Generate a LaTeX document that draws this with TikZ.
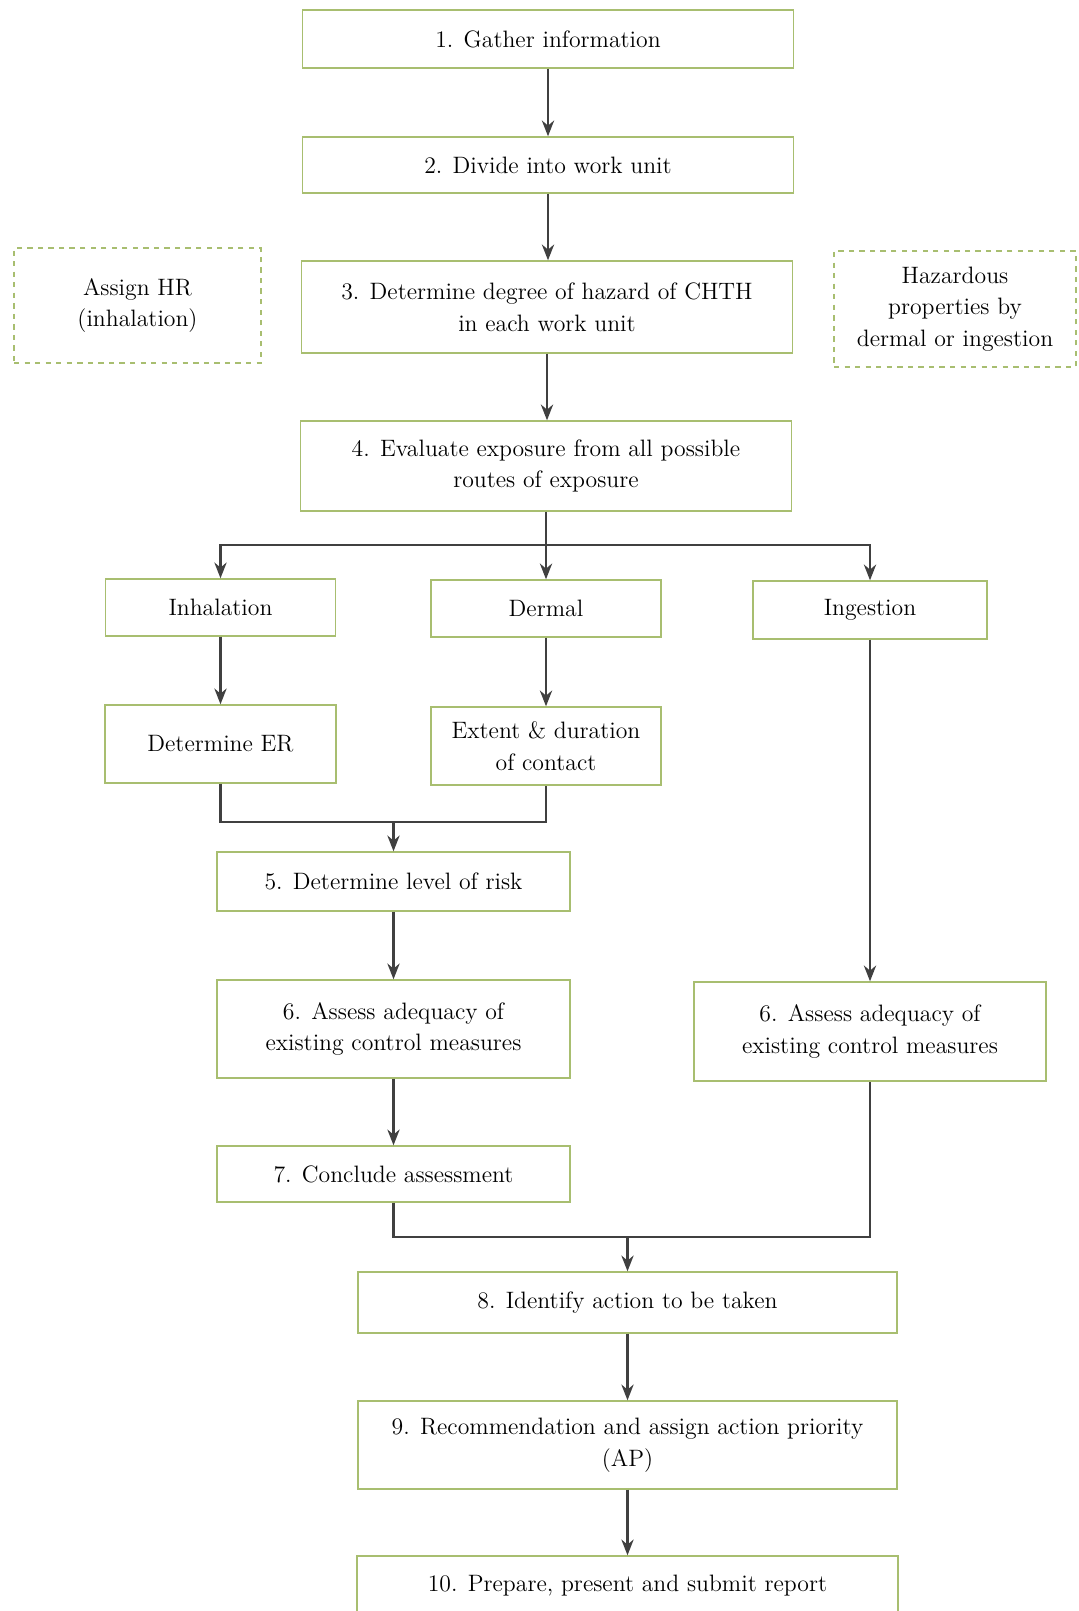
\documentclass[tikz,border=0pt]{standalone}
\usetikzlibrary{arrows.meta}

\definecolor{boxgreen}{RGB}{168,190,112}

\begin{document}
\begin{tikzpicture}[>={Stealth[length=9pt, width=7pt]},
		stepbox/.style={draw=boxgreen, line width=0.8pt, rectangle, align=center, inner sep=0pt, font=\fontsize{13.5}{18}\selectfont, text=black},
		notebox/.style={stepbox, dashed},
		arr/.style={->, line width=1.2pt, draw=black!75},
		lnk/.style={line width=1.2pt, draw=black!75}]
				\useasboundingbox (0,0) rectangle (21.56,-32.22);
				\node[stepbox, minimum width=9.82cm, minimum height=1.16cm] (S1)at(10.96, -0.78) {1. Gather information};
				\node[stepbox, minimum width=9.82cm, minimum height=1.12cm] (S2)at(10.96, -3.30) {2. Divide into work unit};
				\node[stepbox, minimum width=9.82cm, minimum height=1.84cm] (S3)at(10.94, -6.14) {3. Determine degree of hazard of CHTH\\in each work unit};
				\node[stepbox, minimum width=9.82cm, minimum height=1.80cm] (S4)at(10.92, -9.32) {4. Evaluate exposure from all possible\\routes of exposure};
				\node[notebox, minimum width=4.94cm, minimum height=2.30cm] (HR)at(2.75, -6.11) {Assign HR\\(inhalation)};
				\node[notebox, minimum width=4.84cm, minimum height=2.32cm] (HP)at(19.10, -6.18) {Hazardous\\properties by\\dermal or ingestion};
				\node[stepbox, minimum width=4.60cm, minimum height=1.14cm] (Inh)at(4.41, -12.15) {Inhalation};
				\node[stepbox, minimum width=4.60cm, minimum height=1.14cm] (Der)at(10.92, -12.17) {Dermal};
				\node[stepbox, minimum width=4.68cm, minimum height=1.16cm] (Ing)at(17.40, -12.20) {Ingestion};
				\node[stepbox, minimum width=4.62cm, minimum height=1.56cm] (ER)at(4.41, -14.88) {Determine ER};
				\node[stepbox, minimum width=4.60cm, minimum height=1.56cm] (EDC)at(10.92, -14.92) {Extent \& duration\\of contact};
				\node[stepbox, minimum width=7.06cm, minimum height=1.18cm] (S5)at(7.87, -17.63) {5. Determine level of risk};
				\node[stepbox, minimum width=7.06cm, minimum height=1.96cm] (S6a)at(7.87, -20.58) {6. Assess adequacy of\\existing control measures};
				\node[stepbox, minimum width=7.04cm, minimum height=1.98cm] (S6b)at(17.40, -20.63) {6. Assess adequacy of\\existing control measures};
				\node[stepbox, minimum width=7.06cm, minimum height=1.12cm] (S7)at(7.87, -23.48) {7. Conclude assessment};
				\node[stepbox, minimum width=10.78cm, minimum height=1.22cm] (S8)at(12.55, -26.05) {8. Identify action to be taken};
				\node[stepbox, minimum width=10.78cm, minimum height=1.76cm] (S9)at(12.55, -28.90) {9. Recommendation and assign action priority\\(AP)};
				\node[stepbox, minimum width=10.82cm, minimum height=1.20cm] (S10)at(12.55, -31.72) {10. Prepare, present and submit report};
				% junctions
				\coordinate (J4) at (10.92, -10.90);
				\coordinate (J5) at (7.87, -16.44);
				\coordinate (J8) at (12.55, -24.74);
				\draw[arr] (S1.south) -- (S1.south |- S2.north);
				\draw[arr] (S2.south) -- (S2.south |- S3.north);
				\draw[arr] (S3.south) -- (S3.south |- S4.north);
				\draw[lnk] (S4) -- (J4);
				\draw[arr] (J4) -| (Inh);
				\draw[arr] (J4) -- (Der);
				\draw[arr] (J4) -| (Ing);
				\draw[arr] (Inh) -- (ER);
				\draw[arr] (Der) -- (EDC);
				\draw[lnk] (ER.south) |- (J5) -| (EDC.south);
				\draw[arr] (J5) -- (S5);
				\draw[arr] (S5) -- (S6a);
				\draw[arr] (Ing) -- (S6b);
				\draw[arr] (S6a) -- (S7);
				\draw[lnk] (S7.south) |- (J8) -| (S6b.south);
				\draw[arr] (J8) -- (S8);
				\draw[arr] (S8) -- (S9);
				\draw[arr] (S9) -- (S10);
			\end{tikzpicture}
\end{document}
